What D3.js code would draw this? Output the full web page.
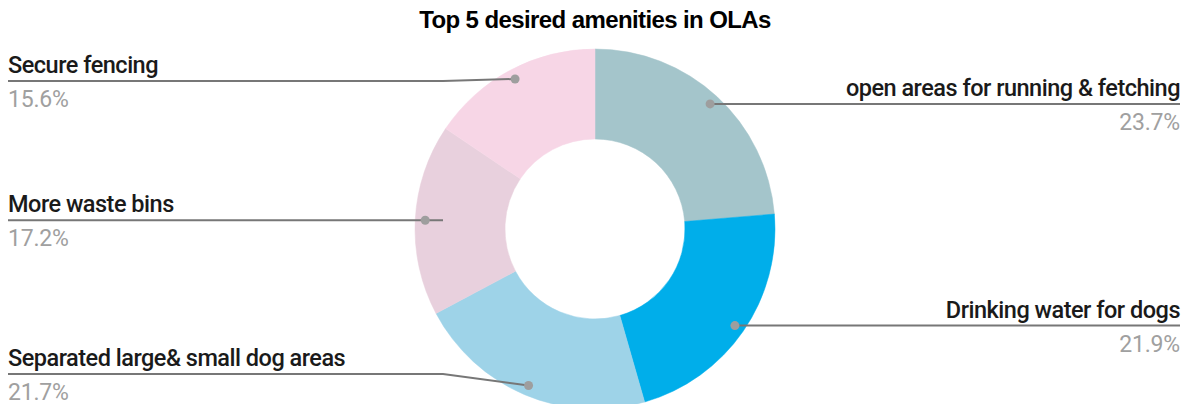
<!DOCTYPE html>
<html>
<head>
<meta charset="utf-8">
<script src="https://cdn.jsdelivr.net/npm/d3@7"></script>
<style>
  html, body { margin: 0; padding: 0; background: #fff; }
  svg { display: block; }
</style>
</head>
<body>
<svg id="chart" width="1188" height="404"></svg>
<script>
// Survey results: top 5 desired amenities in off-leash areas
const categories = [
  "open areas for running & fetching",
  "Drinking water for dogs",
  "Separated large& small dog areas",
  "More waste bins",
  "Secure fencing"
];
const shares = [23.7, 21.9, 21.7, 17.2, 15.6];
const sliceColors = ["#a4c5cb", "#00aeea", "#9ed3e8", "#e8d0dd", "#f7d6e6"];
const chartTitle = "Top 5 desired amenities in OLAs";

const W = 1188, H = 404;
const cx = 595, cy = 229;
const outerR = 180, innerR = 90, dotR = 170;
const leftX = 8, rightX = 1180;
const fontLabel = "Roboto, 'Noto Sans', sans-serif";

const svg = d3.select("#chart");

svg.append("text")
  .attr("x", cx).attr("y", 28)
  .attr("text-anchor", "middle")
  .attr("font-family", "'Liberation Sans', Arial, sans-serif")
  .attr("font-weight", "bold")
  .attr("font-size", 24)
  .attr("letter-spacing", -0.6)
  .attr("fill", "#000")
  .text(chartTitle);

const data = categories.map((c, i) => ({ name: c, value: shares[i], color: sliceColors[i] }));

const pie = d3.pie().sort(null).value(d => d.value);
const arcs = pie(data);

const arc = d3.arc().innerRadius(innerR).outerRadius(outerR);
const dotArc = d3.arc().innerRadius(dotR).outerRadius(dotR);

const g = svg.append("g").attr("transform", `translate(${cx},${cy})`);

g.selectAll("path.slice")
  .data(arcs)
  .join("path")
  .attr("class", "slice")
  .attr("d", arc)
  .attr("fill", d => d.data.color)
  .attr("stroke", d => d.data.color)
  .attr("stroke-width", 0.5);

// Leader lines, dots and labels
const pctFmt = v => v.toFixed(1) + "%";
const labelMinY = 81, labelMaxY = H - 30;

arcs.forEach(a => {
  const [dx, dy] = dotArc.centroid(a);
  const px = cx + dx, py = cy + dy;
  const mid = (a.startAngle + a.endAngle) / 2;
  const right = mid < Math.PI;
  const ly = Math.min(Math.max(py, labelMinY), labelMaxY);

  const lineG = svg.append("g");
  if (right) {
    lineG.append("path")
      .attr("d", `M${px},${py}L${rightX},${ly}`)
      .attr("stroke", "#777").attr("stroke-width", 2).attr("fill", "none");
  } else {
    const elbow = cx - 152;
    lineG.append("path")
      .attr("d", `M${leftX},${ly}L${elbow},${ly}L${px},${py}`)
      .attr("stroke", "#777").attr("stroke-width", 2).attr("fill", "none");
  }
  lineG.append("circle")
    .attr("cx", px).attr("cy", py).attr("r", 4.5)
    .attr("fill", "#9e9e9e");

  const tx = right ? rightX : leftX;
  const anchor = right ? "end" : "start";
  svg.append("text")
    .attr("x", tx).attr("y", ly - 8)
    .attr("text-anchor", anchor)
    .attr("font-family", fontLabel)
    .attr("font-weight", 500)
    .attr("font-size", 23.5)
    .attr("letter-spacing", -0.5)
    .attr("fill", "#1a1a1a")
    .text(a.data.name);
  svg.append("text")
    .attr("x", tx).attr("y", ly + 26)
    .attr("text-anchor", anchor)
    .attr("font-family", fontLabel)
    .attr("font-size", 23)
    .attr("letter-spacing", -0.2)
    .attr("fill", "#a0a0a0")
    .text(pctFmt(a.data.value));
});
</script>
</body>
</html>
